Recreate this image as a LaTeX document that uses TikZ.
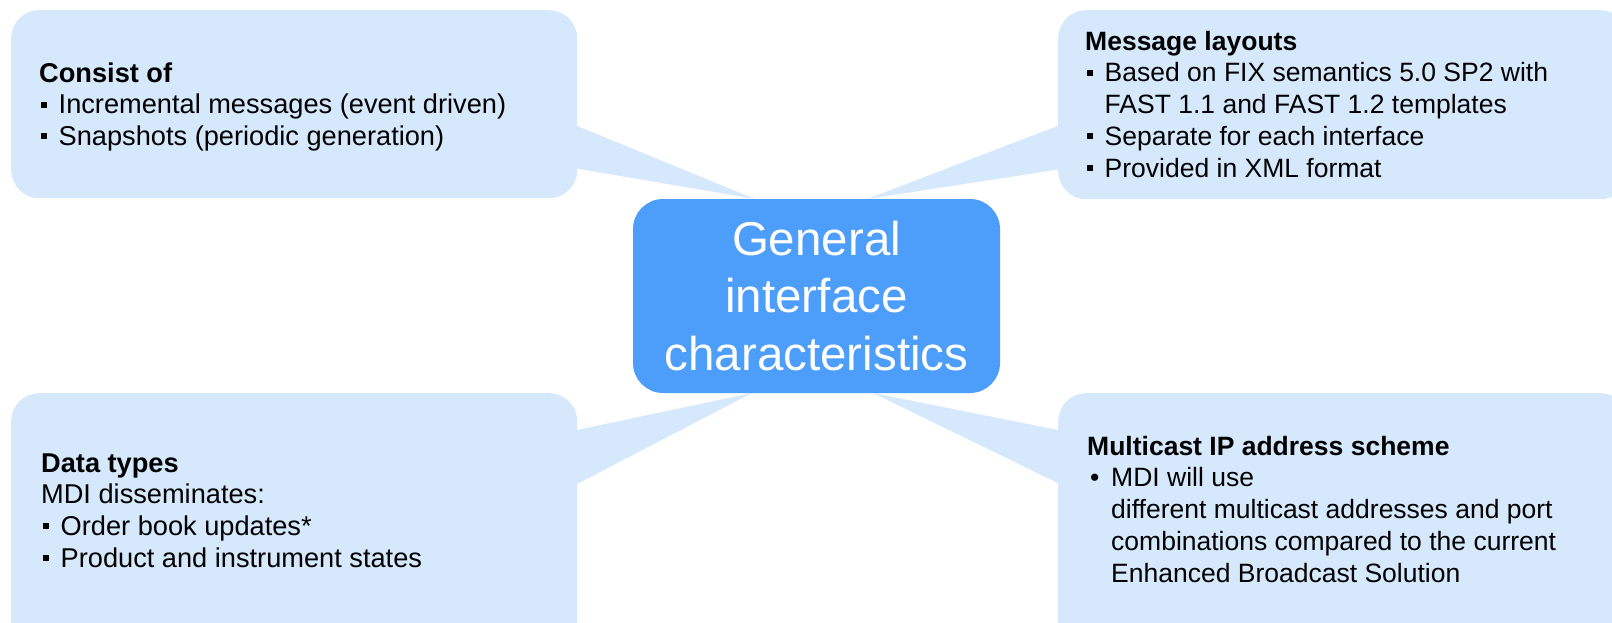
\documentclass[tikz,border=0pt]{standalone}
\usepackage{fontspec}
\setmainfont{Liberation Sans}
\definecolor{lightfill}{HTML}{D5E8FC}
\definecolor{centerfill}{HTML}{4D9DFA}
\newcommand\sqb{\makebox[19.5pt][l]{\hspace{2pt}\rule[6.3pt]{6pt}{6pt}}}
\newcommand\rdb{\makebox[24pt][l]{\hspace{3pt}•}}
\newcommand\fst{\rule{0pt}{20pt}}
\tikzset{
  lightbox/.style={fill=lightfill, draw=none, rounded corners=28pt, inner sep=0pt, anchor=north west},
  centerbox/.style={fill=centerfill, draw=none, rounded corners=30pt, inner sep=0pt, text=white,
    align=center, font=\fontsize{47.5}{57.5}\selectfont},
  wedge/.style={fill=lightfill, draw=none},
  boxtext/.style={inner sep=0pt, anchor=north west, align=left, text=black,
    font=\fontsize{26.5}{31.75}\selectfont},
  boxtextl/.style={boxtext, font=\fontsize{27.2}{31.75}\selectfont}
}
\begin{document}
\begin{tikzpicture}[x=1pt,y=-1pt]
\useasboundingbox (0,0) rectangle (1612,623);
\clip (0,0) rectangle (1612,623);
% light boxes
\node[lightbox, minimum width=566pt, minimum height=188pt] (tl) at (11,10) {};
\node[lightbox, minimum width=570pt, minimum height=189pt] (tr) at (1058,10) {};
\node[lightbox, minimum width=566pt, minimum height=260pt] (bl) at (11,393) {};
\node[lightbox, minimum width=570pt, minimum height=260pt] (br) at (1058,393) {};
% center box edge coordinates
\coordinate (ctop) at (816.5,199);
\coordinate (cbot) at (816.5,393);
% wedges
\fill[wedge] ([xshift=-10pt]tl.east |- 0,122) -- (ctop -| 755,0) -- ([xshift=-10pt]tl.east |- 0,167) -- cycle;
\fill[wedge] ([xshift=10pt]tr.west |- 0,122) -- (ctop -| 867,0) -- ([xshift=10pt]tr.west |- 0,168) -- cycle;
\fill[wedge] ([xshift=-10pt]bl.east |- 0,432) -- (cbot -| 752,0) -- ([xshift=-10pt]bl.east |- 0,489) -- cycle;
\fill[wedge] ([xshift=10pt]br.west |- 0,432) -- (cbot -| 873,0) -- ([xshift=10pt]br.west |- 0,488) -- cycle;
% center box
\node[centerbox, minimum width=367pt, minimum height=194pt] (c) at (816.5,296)
  {General\\interface\\characteristics};
% texts
\node[boxtextl] (tltext) at (39,62)
  {\fst\textbf{Consist of}\\
   \sqb Incremental messages (event driven)\\
   \sqb Snapshots (periodic generation)};
\node[boxtext] (trtext) at (1085,30)
  {\fst\textbf{Message layouts}\\
   \sqb Based on FIX semantics 5.0 SP2 with\\
   \hspace*{19.5pt}FAST 1.1 and FAST 1.2 templates\\
   \sqb Separate for each interface\\
   \sqb Provided in XML format};
\node[boxtextl] (bltext) at (41,452)
  {\fst\textbf{Data types}\\
   MDI disseminates:\\
   \sqb Order book updates*\\
   \sqb Product and instrument states};
\node[boxtext] (brtext) at (1087,435)
  {\fst\textbf{Multicast IP address scheme}\\
   \rdb MDI will use\\
   \hspace*{24pt}different multicast addresses and port\\
   \hspace*{24pt}combinations compared to the current\\
   \hspace*{24pt}Enhanced Broadcast Solution};
\end{tikzpicture}
\end{document}
